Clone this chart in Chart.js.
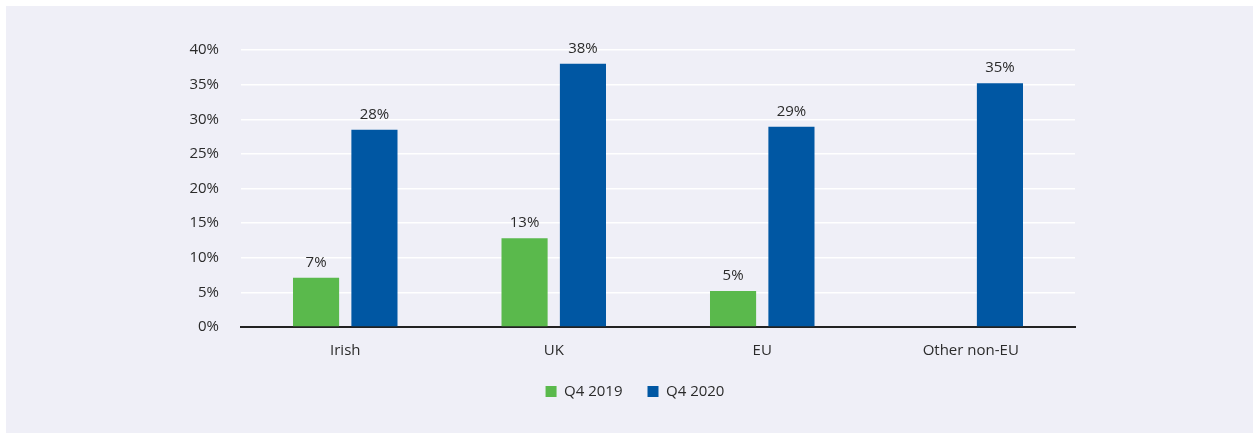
<!DOCTYPE html>
<html>
<head>
<meta charset="utf-8">
<script src="https://cdn.jsdelivr.net/npm/chart.js@4/dist/chart.umd.min.js"></script>
<style>
  html, body { margin: 0; padding: 0; background: #ffffff; }
  #panel { position: absolute; left: 6px; top: 6px; width: 1247px; height: 427px; background: #efeff7; }
  #wrap { position: absolute; left: 0; top: 0; width: 1253px; height: 433px; }
</style>
</head>
<body>
<div id="panel"></div>
<div id="wrap"><canvas id="c" width="1253" height="433"></canvas></div>
<script>
const categories = ["Irish", "UK", "EU", "Other non-EU"];
const seriesNames = ["Q4 2019", "Q4 2020"];
const q4_2019 = [7.1, 12.8, 5.2, null];
const q4_2020 = [28.5, 38.0, 28.9, 35.2];
const valueLabels2019 = ["7%", "13%", "5%", ""];
const valueLabels2020 = ["28%", "38%", "29%", "35%"];
const yTicks = [0, 5, 10, 15, 20, 25, 30, 35, 40];

const FONT = "'Open Sans', 'Lato', sans-serif";
const TEXT = "#2b2b2b";

const valueLabelPlugin = {
  id: "valueLabels",
  afterDatasetsDraw(chart) {
    const ctx = chart.ctx;
    const labelSets = [valueLabels2019, valueLabels2020];
    ctx.save();
    ctx.font = "15px " + FONT;
    ctx.fillStyle = TEXT;
    ctx.textAlign = "center";
    ctx.textBaseline = "alphabetic";
    chart.data.datasets.forEach((ds, di) => {
      const meta = chart.getDatasetMeta(di);
      meta.data.forEach((el, i) => {
        if (ds.data[i] === null || ds.data[i] === undefined) return;
        const txt = labelSets[di][i];
        if (!txt) return;
        ctx.fillText(txt, el.x, el.y - 11);
      });
    });
    ctx.restore();
  }
};

const legendShift = {
  id: "legendShift",
  afterLayout(chart) {
    const lg = chart.legend;
    if (lg) { lg.left -= 23; lg.right -= 23; }
  }
};

new Chart(document.getElementById("c"), {
  type: "bar",
  data: {
    labels: categories,
    datasets: [
      { label: seriesNames[0], data: q4_2019, backgroundColor: "#5ab94c", borderWidth: 0 },
      { label: seriesNames[1], data: q4_2020, backgroundColor: "#0057a3", borderWidth: 0 }
    ]
  },
  options: {
    responsive: false,
    animation: false,
    devicePixelRatio: 1,
    categoryPercentage: 0.56,
    barPercentage: 0.79,
    layout: { padding: { left: 10, right: 178, top: 50, bottom: 24 } },
    plugins: {
      legend: {
        position: "bottom",
        fullSize: false,
        labels: {
          font: { family: FONT, size: 15 },
          color: TEXT,
          boxWidth: 11,
          boxHeight: 11,
          padding: 25
        }
      },
      tooltip: { enabled: false }
    },
    scales: {
      x: {
        grid: { display: false, drawTicks: false },
        border: { display: true, color: "#222222", width: 2 },
        ticks: { font: { family: FONT, size: 15 }, color: TEXT, padding: 15 },
        afterFit(scale) { scale.height = 32; }
      },
      y: {
        min: 0, max: 40,
        afterBuildTicks(scale) { scale.ticks = yTicks.map(v => ({ value: v })); },
        grid: { color: "#ffffff", lineWidth: 1.5, drawTicks: false },
        border: { display: false },
        ticks: {
          font: { family: FONT, size: 15 }, color: TEXT, padding: 22,
          callback: (v) => v + "%"
        },
        afterFit(scale) { scale.width = 231; }
      }
    }
  },
  plugins: [valueLabelPlugin, legendShift]
});
</script>
</body>
</html>
